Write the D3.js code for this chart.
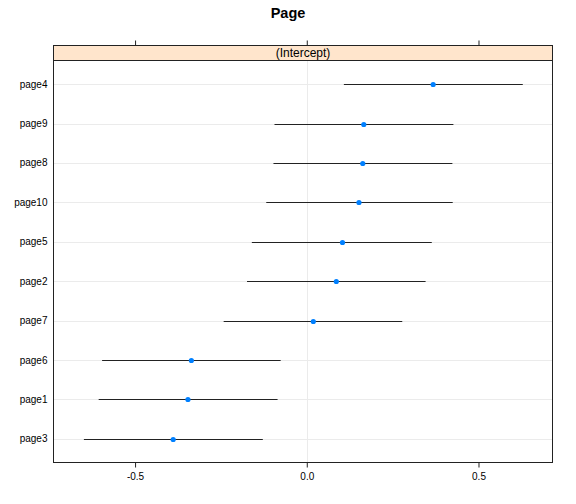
<!DOCTYPE html>
<html><head><meta charset="utf-8">
<script src="https://cdn.jsdelivr.net/npm/d3@7"></script>
<style>body{margin:0;background:#fff;} svg{display:block;font-family:"Liberation Sans",Arial,sans-serif;}</style>
</head><body>
<script>
const categories = ["page4","page9","page8","page10","page5","page2","page7","page6","page1","page3"];
const estimates = [0.368, 0.166, 0.163, 0.152, 0.104, 0.086, 0.019, -0.336, -0.346, -0.389];
const lowers    = [0.108, -0.094, -0.097, -0.118, -0.160, -0.174, -0.242, -0.596, -0.606, -0.649];
const uppers    = [0.629, 0.427, 0.424, 0.425, 0.364, 0.346, 0.278, -0.076, -0.085, -0.128];
const xTicks = [-0.5, 0.0, 0.5];
const xTickLabels = ["-0.5","0.0","0.5"];
const title = "Page";
const stripLabel = "(Intercept)";

const W = 576, H = 504;
const L = 53.5, R = 552.5, stripTop = 45.5, stripBot = 60.5, B = 462.5;
const svg = d3.select("body").append("svg").attr("width", W).attr("height", H);

const x = d3.scaleLinear().domain([-0.7375, 0.7155]).range([L, R]);
const y = d3.scaleLinear().domain([0.4, 10.6]).range([stripBot, B]);
const rowY = (i) => y(i + 1);

// title
svg.append("text").attr("x", 288).attr("y", 18).attr("text-anchor","middle")
  .attr("font-size", 14.5).attr("font-weight","bold").text(title);

// grid
const g = svg.append("g");
g.selectAll("line.h").data(categories).join("line")
  .attr("x1", L).attr("x2", R).attr("y1", (d,i)=>Math.round(rowY(i))+0.5).attr("y2",(d,i)=>Math.round(rowY(i))+0.5)
  .attr("stroke","#ebebeb").attr("stroke-width",1);
g.append("line").attr("x1", Math.round(x(0))+0.5).attr("x2", Math.round(x(0))+0.5)
  .attr("y1", stripBot).attr("y2", B).attr("stroke","#ebebeb");

// intervals
g.selectAll("line.ci").data(categories).join("line")
  .attr("x1",(d,i)=>x(lowers[i])).attr("x2",(d,i)=>x(uppers[i]))
  .attr("y1",(d,i)=>Math.round(rowY(i))+0.5).attr("y2",(d,i)=>Math.round(rowY(i))+0.5)
  .attr("stroke","#222").attr("stroke-width",1);
// points
g.selectAll("circle").data(categories).join("circle")
  .attr("cx",(d,i)=>x(estimates[i])).attr("cy",(d,i)=>Math.round(rowY(i))+0.5)
  .attr("r",2.6).attr("fill","#0080ff");

// strip
svg.append("rect").attr("x",L).attr("y",stripTop).attr("width",R-L).attr("height",stripBot-stripTop)
  .attr("fill","#ffe5cc").attr("stroke","#222");
svg.append("text").attr("x",(L+R)/2).attr("y",stripBot-3.5).attr("text-anchor","middle")
  .attr("font-size",12).text(stripLabel);

// panel border
svg.append("rect").attr("x",L).attr("y",stripTop).attr("width",R-L).attr("height",B-stripTop)
  .attr("fill","none").attr("stroke","#222");

// bottom axis
const xb = d3.axisBottom(x).tickValues(xTicks).tickFormat((d,i)=>xTickLabels[i]).tickSize(5).tickSizeOuter(0);
const ab = svg.append("g").attr("transform",`translate(0,${B})`).call(xb);
ab.select(".domain").remove();
ab.selectAll("text").attr("font-size",10).attr("font-family","Liberation Sans, Arial, sans-serif").attr("fill","#000").attr("dy","0.95em");
ab.selectAll("line").attr("stroke","#222");
// top ticks
const xt = d3.axisTop(x).tickValues(xTicks).tickFormat("").tickSize(5).tickSizeOuter(0);
const at = svg.append("g").attr("transform",`translate(0,${stripTop})`).call(xt);
at.select(".domain").remove();
at.selectAll("line").attr("stroke","#222");

// y labels
svg.selectAll("text.yl").data(categories).join("text")
  .attr("x", L-6).attr("y",(d,i)=>rowY(i)).attr("dy","0.35em").attr("text-anchor","end")
  .attr("font-size",10).text(d=>d);
</script>
</body></html>
